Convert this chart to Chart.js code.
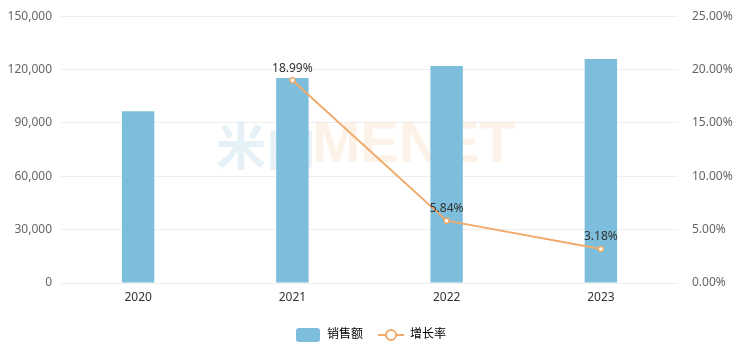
<!DOCTYPE html>
<html>
<head>
<meta charset="utf-8">
<script src="https://cdn.jsdelivr.net/npm/chart.js@4"></script>
<style>
  html, body { margin: 0; padding: 0; background: #fff; }
  #wrap { width: 741px; height: 355px; }
</style>
</head>
<body>
<div id="wrap"><canvas id="chartContainer"></canvas></div>
<script>
"use strict";

// 1: data
const years = ['2020', '2021', '2022', '2023'];
const sales = [96600, 115300, 122000, 125900];
const growth = [null, 18.99, 5.84, 3.18];
const leftTicks = [0, 30000, 60000, 90000, 120000, 150000];
const rightTicks = [0, 5, 10, 15, 20, 25];

const barColor = '#7cbedb';
const lineColor = '#f0aa6c';
const fontFamily = '"Noto Sans", "Noto Sans CJK SC", sans-serif';

// legend swatches
function barSwatch() {
  const c = document.createElement('canvas');
  c.width = 24; c.height = 14;
  const x = c.getContext('2d');
  x.fillStyle = barColor;
  x.beginPath();
  x.roundRect(0, 0, 24, 14, 3);
  x.fill();
  return c;
}
function lineSwatch() {
  const c = document.createElement('canvas');
  c.width = 26; c.height = 14;
  const x = c.getContext('2d');
  x.strokeStyle = lineColor;
  x.lineWidth = 2;
  x.beginPath();
  x.moveTo(0, 7); x.lineTo(26, 7);
  x.stroke();
  x.beginPath();
  x.arc(13, 7, 5, 0, Math.PI * 2);
  x.fillStyle = '#fff';
  x.fill();
  x.stroke();
  return c;
}

// watermark
const watermark = {
  id: 'watermark',
  beforeDatasetsDraw(chart) {
    const ctx = chart.ctx;
    ctx.save();
    ctx.font = 'bold 50px "Noto Sans CJK SC", sans-serif';
    ctx.textBaseline = 'middle';
    ctx.fillStyle = 'rgba(200,225,238,0.45)';
    ctx.fillText('米内', 216, 146);
    ctx.font = 'bold 58px "Liberation Sans", sans-serif';
    ctx.fillStyle = 'rgba(250,215,185,0.32)';
    ctx.fillText('MENET', 312, 146);
    ctx.restore();
  }
};

// value labels on line points
const pointLabels = {
  id: 'pointLabels',
  afterDatasetsDraw(chart) {
    const ctx = chart.ctx;
    const meta = chart.getDatasetMeta(1);
    ctx.save();
    ctx.font = '12px ' + fontFamily;
    ctx.fillStyle = '#333';
    ctx.textAlign = 'center';
    ctx.textBaseline = 'bottom';
    meta.data.forEach((pt, i) => {
      if (growth[i] == null) return;
      ctx.fillText(growth[i].toFixed(2) + '%', pt.x, pt.y - 6);
    });
    ctx.restore();
  }
};

function appendChart() {
  let chartContainer = document.getElementById('chartContainer');
  let chart = new Chart(chartContainer, {
    type: 'bar',
    data: {
      labels: years,
      datasets: [{
        type: 'bar',
        label: '销售额',
        data: sales,
        backgroundColor: barColor,
        yAxisID: 'y',
        categoryPercentage: 1,
        barPercentage: 0.21,
        order: 2
      },
      {
        type: 'line',
        label: '增长率',
        data: growth,
        borderColor: lineColor,
        backgroundColor: '#fff',
        borderWidth: 2,
        pointRadius: 2.5,
        pointBorderWidth: 1.5,
        pointBackgroundColor: '#fff',
        pointBorderColor: lineColor,
        yAxisID: 'y1',
        order: 1
      }]
    },
    options: {
      responsive: true,
      maintainAspectRatio: false,
      animation: false,
      layout: { padding: { top: 12, bottom: 4 } },
      scales: {
        x: {
          grid: { display: false, drawTicks: false },
          border: { display: false },
          afterFit(axis) { axis.height = 31; },
          ticks: { color: '#333', font: { size: 12, family: fontFamily }, padding: 7 }
        },
        y: {
          position: 'left',
          min: 0, max: 150000,
          afterBuildTicks(axis) { axis.ticks = leftTicks.map(v => ({ value: v })); },
          afterFit(axis) { axis.width = 61; },
          grid: { color: '#eeeeee', drawTicks: false },
          border: { display: false },
          ticks: {
            color: '#666', padding: 9,
            font: { size: 12, family: fontFamily },
            callback: v => v.toLocaleString('en-US')
          }
        },
        y1: {
          position: 'right',
          min: 0, max: 25,
          afterBuildTicks(axis) { axis.ticks = rightTicks.map(v => ({ value: v })); },
          afterFit(axis) { axis.width = 63; },
          grid: { display: false },
          border: { display: false },
          ticks: {
            color: '#666', padding: 6,
            font: { size: 12, family: fontFamily },
            callback: v => v.toFixed(2) + '%'
          }
        }
      },
      plugins: {
        legend: {
          position: 'bottom',
          labels: {
            usePointStyle: true,
            pointStyleWidth: 26,
            padding: 15,
            color: '#333',
            font: { size: 12, family: fontFamily },
            generateLabels(chart) {
              return [
                { text: '销售额', pointStyle: barSwatch(), datasetIndex: 0, fillStyle: barColor, strokeStyle: barColor, lineWidth: 0 },
                { text: '增长率', pointStyle: lineSwatch(), datasetIndex: 1, fillStyle: '#fff', strokeStyle: lineColor, lineWidth: 0 }
              ];
            }
          }
        },
        tooltip: { enabled: false }
      }
    },
    plugins: [watermark, pointLabels]
  });
}

appendChart();
</script>
</body>
</html>
